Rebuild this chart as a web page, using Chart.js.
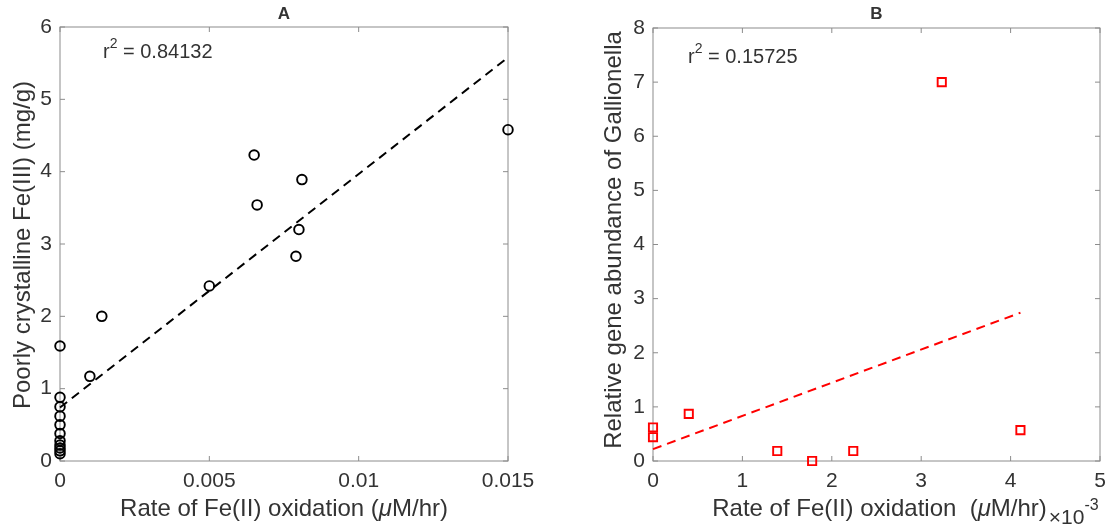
<!DOCTYPE html>
<html>
<head>
<meta charset="utf-8">
<script src="https://cdn.jsdelivr.net/npm/chart.js@4/dist/chart.umd.min.js"></script>
<style>
  body { margin: 0; background: #fff; }
  .panel { position: absolute; top: 0; width: 557px; height: 529px; }
</style>
</head>
<body>
<div class="panel" style="left:0"><canvas id="chartA" width="557" height="529"></canvas></div>
<div class="panel" style="left:557px"><canvas id="chartB" width="557" height="529"></canvas></div>
<script>
// Panel A: oxidation rate (µM/hr) vs poorly crystalline Fe(III) (mg/g)
const rateA = [0.015, 0.0065, 0.0081, 0.0066, 0.0080, 0.0079, 0.0050, 0.0014, 0.0010,
               0, 0, 0, 0, 0, 0, 0, 0, 0, 0, 0];
const feA = [4.58, 4.23, 3.89, 3.54, 3.20, 2.83, 2.42, 2.00, 1.17,
             1.59, 0.88, 0.75, 0.62, 0.50, 0.38, 0.28, 0.22, 0.18, 0.14, 0.10];
const fitRateA = [0, 0.015];
const fitFeA = [0.74, 5.58];
const xTicksA = [0, 0.005, 0.01, 0.015];
const yTicksA = [0, 1, 2, 3, 4, 5, 6];

// Panel B: oxidation rate (x10^-3 µM/hr) vs relative Gallionella abundance
const rateB = [0, 0, 0.40, 1.39, 1.78, 2.24, 3.23, 4.11];
const gallB = [0.62, 0.44, 0.87, 0.185, 0, 0.185, 7.0, 0.57];
const fitRateB = [0, 4.11];
const fitGallB = [0.22, 2.74];
const xTicksB = [0, 1, 2, 3, 4, 5];
const yTicksB = [0, 1, 2, 3, 4, 5, 6, 7, 8];

const FONT = '"Liberation Sans", Arial, Helvetica, sans-serif';
const TEXT = '#333333';
const AXIS = '#8c8c8c';
const TICK_SIZE = 21;
const LABEL_SIZE = 24;

const toPoints = (xs, ys) => xs.map((x, i) => ({ x, y: ys[i] }));

// box round the plot area with inward tick marks on all four sides
const boxAndTicks = {
  id: 'boxAndTicks',
  beforeDatasetsDraw(chart) {
    const { ctx, chartArea: a, scales: { x, y } } = chart;
    ctx.save();
    ctx.strokeStyle = AXIS;
    ctx.lineWidth = 1;
    ctx.strokeRect(a.left, a.top, a.right - a.left, a.bottom - a.top);
    ctx.beginPath();
    x.ticks.forEach(t => {
      const px = x.getPixelForValue(t.value);
      ctx.moveTo(px, a.bottom); ctx.lineTo(px, a.bottom - 5);
      ctx.moveTo(px, a.top); ctx.lineTo(px, a.top + 5);
    });
    y.ticks.forEach(t => {
      const py = y.getPixelForValue(t.value);
      ctx.moveTo(a.left, py); ctx.lineTo(a.left + 5, py);
      ctx.moveTo(a.right, py); ctx.lineTo(a.right - 5, py);
    });
    ctx.stroke();
    ctx.restore();
  }
};

// draws a row of [text, italic] pieces centred on cx, returns the right end
function drawPieces(ctx, pieces, cx, cy, size) {
  const widths = pieces.map(([s, it]) => {
    ctx.font = (it ? 'italic ' : '') + size + 'px ' + FONT;
    return ctx.measureText(s).width;
  });
  let x = cx - widths.reduce((p, w) => p + w, 0) / 2;
  pieces.forEach(([s, it], i) => {
    ctx.font = (it ? 'italic ' : '') + size + 'px ' + FONT;
    ctx.fillText(s, x, cy);
    x += widths[i];
  });
  return x;
}

// panel title, axis titles and the r^2 note
const panelText = {
  id: 'panelText',
  afterDraw(chart, args, opts) {
    const { ctx, chartArea: a } = chart;
    const cx = (a.left + a.right) / 2;
    ctx.save();
    ctx.fillStyle = TEXT;
    ctx.textBaseline = 'middle';
    ctx.textAlign = 'center';
    ctx.font = 'bold 17px ' + FONT;
    ctx.fillText(opts.title, cx, 14);

    ctx.textAlign = 'left';
    const end = drawPieces(ctx, opts.xTitle, cx + opts.xTitleShift, 509, LABEL_SIZE);
    if (opts.exponent) {
      ctx.textBaseline = 'alphabetic';
      ctx.font = '21px ' + FONT;
      ctx.fillText('\u00d710', end + 2, 524);
      const w = ctx.measureText('\u00d710').width;
      ctx.font = '16px ' + FONT;
      ctx.fillText('-3', end + 2 + w, 510);
      ctx.textBaseline = 'middle';
    }

    ctx.save();
    ctx.translate(opts.yTitleX, opts.yTitleY);
    ctx.rotate(-Math.PI / 2);
    ctx.textAlign = 'center';
    ctx.font = LABEL_SIZE + 'px ' + FONT;
    ctx.fillText(opts.yTitle, 0, 0);
    ctx.restore();

    ctx.textAlign = 'left';
    ctx.textBaseline = 'alphabetic';
    const [rx, ry] = opts.r2At;
    ctx.font = '20px ' + FONT;
    ctx.fillText('r', rx, ry);
    let x = rx + ctx.measureText('r').width;
    ctx.font = '14px ' + FONT;
    ctx.fillText('2', x, ry - 10);
    x += ctx.measureText('2').width;
    ctx.font = '20px ' + FONT;
    ctx.fillText(' = ' + opts.r2, x, ry);
    ctx.restore();
  }
};

function makePanel(id, cfg) {
  const tickFont = { family: FONT, size: TICK_SIZE };
  return new Chart(document.getElementById(id), {
    type: 'scatter',
    data: {
      datasets: [
        {
          data: toPoints(cfg.xs, cfg.ys),
          pointStyle: cfg.marker,
          pointRadius: cfg.radius,
          pointBorderWidth: 1.9,
          borderColor: cfg.color,
          backgroundColor: 'rgba(0,0,0,0)',
          clip: false
        },
        {
          data: toPoints(cfg.fitX, cfg.fitY),
          showLine: true,
          borderColor: cfg.color,
          borderWidth: 2,
          borderDash: [9, 6],
          pointRadius: 0,
          clip: false
        }
      ]
    },
    options: {
      responsive: false,
      animation: false,
      layout: { padding: cfg.padding },
      plugins: {
        legend: { display: false },
        tooltip: { enabled: false },
        panelText: cfg.text
      },
      scales: {
        x: {
          type: 'linear',
          min: cfg.xTicks[0],
          max: cfg.xTicks[cfg.xTicks.length - 1],
          afterBuildTicks: s => { s.ticks = cfg.xTicks.map(value => ({ value })); },
          afterFit: s => { s.height = 68; },
          grid: { display: false, drawTicks: false },
          border: { display: false },
          ticks: { font: tickFont, color: TEXT, padding: 8, maxRotation: 0, autoSkip: false,
                   callback: v => String(+v.toFixed(3)) }
        },
        y: {
          type: 'linear',
          min: cfg.yTicks[0],
          max: cfg.yTicks[cfg.yTicks.length - 1],
          afterBuildTicks: s => { s.ticks = cfg.yTicks.map(value => ({ value })); },
          afterFit: s => { s.width = cfg.yAxisWidth; },
          grid: { display: false, drawTicks: false },
          border: { display: false },
          ticks: { font: tickFont, color: TEXT, padding: 8, autoSkip: false }
        }
      }
    },
    plugins: [boxAndTicks, panelText]
  });
}

makePanel('chartA', {
  xs: rateA, ys: feA, fitX: fitRateA, fitY: fitFeA,
  xTicks: xTicksA, yTicks: yTicksA,
  marker: 'circle', radius: 4.8, color: '#000000',
  yAxisWidth: 60, padding: { left: 0, top: 27, right: 49, bottom: 0 },
  text: {
    title: 'A',
    xTitle: [['Rate of Fe(II) oxidation (', false], ['\u03bc', true], ['M/hr)', false]],
    xTitleShift: 0,
    yTitle: 'Poorly crystalline Fe(III) (mg/g)', yTitleX: 23, yTitleY: 245,
    r2: '0.84132', r2At: [103, 58]
  }
});

makePanel('chartB', {
  xs: rateB, ys: gallB, fitX: fitRateB, fitY: fitGallB,
  xTicks: xTicksB, yTicks: yTicksB,
  marker: 'rect', radius: 5.8, color: '#ff0000',
  yAxisWidth: 96, padding: { left: 0, top: 28, right: 14, bottom: 0 },
  text: {
    title: 'B',
    xTitle: [['Rate of Fe(II) oxidation  (', false], ['\u03bc', true], ['M/hr)', false]],
    xTitleShift: 3,
    yTitle: 'Relative gene abundance of Gallionella', yTitleX: 57, yTitleY: 240,
    exponent: true,
    r2: '0.15725', r2At: [131, 63]
  }
});
</script>
</body>
</html>
